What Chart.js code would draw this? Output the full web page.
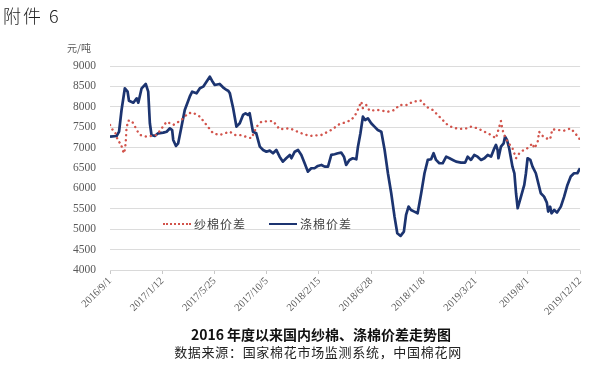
<!DOCTYPE html>
<html>
<head>
<meta charset="utf-8">
<script src="https://cdn.jsdelivr.net/npm/chart.js@4"></script>
<style>
  html, body { margin: 0; padding: 0; background: #fff; }
  #wrap { position: relative; width: 590px; height: 366px; overflow: hidden; }
  #grafico { position: absolute; left: 0; top: 0; }
  .txt { position: absolute; white-space: nowrap; }
  #anexo { left: 3px; top: 2px; font: 300 18px 'Noto Sans CJK SC'; letter-spacing: 2px; color: #222; }
  #unidade { left: 67px; top: 40px; font: 10px 'Noto Sans CJK SC'; color: #595959; }
  #titulo { left: 0; width: 642px; text-align: center; top: 324px; font: bold 14px 'Noto Sans CJK SC'; color: #111; }
  #fonte { left: 0; width: 636px; text-align: center; top: 342px; font: 13px 'Noto Sans CJK SC'; letter-spacing: 0.7px; color: #222; }
  .leg { position: absolute; top: 215px; font: 12px 'Noto Sans CJK SC'; letter-spacing: 1px; color: #404040; }
  .amostra { position: absolute; top: 223px; width: 28px; height: 0; }
</style>
</head>
<body>
<div id="wrap">
  <canvas id="grafico" width="590" height="366"></canvas>
  <div class="txt" id="anexo">附件 6</div>
  <div class="txt" id="unidade">元/吨</div>
  <div class="amostra" style="left:163px; border-top: 2.5px dotted #d2544c;"></div>
  <div class="leg" style="left:194px;">纱棉价差</div>
  <div class="amostra" style="left:269px; border-top: 2.5px solid #1c3470;"></div>
  <div class="leg" style="left:300px;">涤棉价差</div>
  <div class="txt" id="titulo">2016 年度以来国内纱棉、涤棉价差走势图</div>
  <div class="txt" id="fonte">数据来源：国家棉花市场监测系统，中国棉花网</div>
</div>
<script>
// eixo X em semanas desde 2016/9/1 (cada rótulo = 19 semanas)
const rotulosX = ['2016/9/1', '2017/1/12', '2017/5/25', '2017/10/5', '2018/2/15',
                  '2018/6/28', '2018/11/8', '2019/3/21', '2019/8/1', '2019/12/12'];

// 纱棉价差 (linha pontilhada vermelha)
const semanasFio = [0, 0.8, 1.8, 3, 4, 4.5, 5.2, 5.7, 6, 6.6, 7.9, 9.1, 10.1, 10.9, 13.3, 17, 18.8, 20.6,
  23, 26, 28.4, 30.2, 32.7, 35.1, 37.5, 39.9, 43.6, 45.4, 47.2, 51.5, 53.3, 55.1, 59.3, 61.7, 65.4, 69,
  72.6, 76.9, 80.5, 83.5, 85.3, 87.8, 89.6, 91.4, 92, 93.2, 94.4, 97.4, 101.1, 103.5, 105.3, 108.3, 110.1,
  113.2, 115, 117.4, 119.2, 121, 122.8, 124.7, 127.1, 130.1, 131.3, 133.7, 136.2, 138.6, 140.4, 141.6,
  142.2, 142.8, 143.4, 144.6, 146.4, 147.7, 148.9, 150.1, 151.3, 152.5, 153.7, 154.3, 155.5, 156.1, 156.9,
  158.6, 160.1, 160.9, 162.7, 165.2, 167.6, 169.4, 170.7, 171];
const valoresFio = [7555, 7449, 7390, 7145, 7106, 6942, 6861, 7106, 7473, 7660, 7660, 7513, 7390, 7310, 7268, 7310, 7473, 7636,
  7555, 7677, 7841, 7857, 7758, 7555, 7350, 7310, 7390, 7310, 7310, 7229, 7513, 7636, 7652, 7449, 7473, 7366,
  7285, 7310, 7432, 7579, 7612, 7677, 7841, 8126, 7963, 8045, 7905, 7922, 7880, 7922, 8045, 8045, 8126,
  8150, 8003, 7922, 7800, 7677, 7555, 7490, 7457, 7473, 7513, 7473, 7390, 7310, 7229, 7513,
  7652, 7432, 7310, 7145, 6984, 6739, 6861, 6925, 6958, 7023, 7106, 6984, 7106, 7390, 7310,
  7229, 7204, 7449, 7432, 7416, 7473, 7334, 7229, 7106];

// 涤棉价差 (linha azul contínua)
const semanasPoli = [0, 2.4, 3.3, 4.2, 5.4, 6.4, 6.9, 8.5, 9.7, 10.3, 11.5, 13, 13.9, 14.5, 15.1, 16.3, 17.5, 19.4,
  20.6, 21.8, 22.6, 23, 24, 24.8, 26, 27.2, 29, 29.9, 31.5, 32.7, 33.9, 35.1, 36.3, 37.1, 38.1, 39.9, 41.1,
  42.4, 43, 43.6, 44.8, 46, 47.2, 48.4, 49.3, 50.2, 50.8, 52, 53.2, 54.5, 55.7, 56.9, 58.1, 59.3, 60.5, 61.7,
  62.9, 64.1, 65.4, 66, 67.2, 68.4, 69.6, 70.8, 72, 73.2, 74.4, 75.6, 76.9, 78.1, 79.3, 80.5, 81.7, 82.9,
  84.1, 85.1, 85.9, 87.1, 88.3, 89.6, 90.2, 91.1, 92, 92.8, 93.8, 95, 96.2, 97.4, 98.7, 99.9, 101.1, 102.3,
  103.5, 104.5, 105.7, 106.9, 107.7, 108.6, 109.5, 110.7, 111.9, 113.2, 114.4, 115.6, 116.8, 117.7, 118.6,
  119.8, 121, 122.3, 123.5, 124.7, 125.9, 127.7, 129.2, 130.1, 131.3, 132.5, 133.7, 135, 136.2, 137.4,
  138.6, 139.8, 140.4, 141, 141.3, 142.2, 143.2, 143.7, 144.4, 145.2, 146.4, 147.1, 147.7, 148.3, 149.5,
  150.7, 151.3, 151.9, 152.9, 153.7, 154.9, 155.8, 156.7, 157.9, 158.9, 159.4, 160.1, 160.6, 161.6, 162.6,
  164, 165.2, 166.4, 167.6, 168.8, 170, 171];
const valoresPoli = [7268, 7285, 7390, 7922, 8453, 8371, 8150, 8100, 8208, 8100, 8453, 8560, 8371, 7596, 7310, 7285, 7350, 7366,
  7390, 7473, 7432, 7187, 7040, 7106, 7513, 7922, 8248, 8371, 8330, 8453, 8494, 8616, 8738, 8640, 8535, 8560, 8478,
  8412, 8395, 8330, 7963, 7513, 7596, 7800, 7841, 7800, 7841, 7390, 7350, 7023, 6942, 6900, 6925, 6861, 6942, 6778,
  6655, 6739, 6820, 6739, 6900, 6942, 6820, 6616, 6410, 6494, 6494, 6550, 6575, 6533, 6533, 6820, 6837, 6861,
  6878, 6778, 6575, 6698, 6739, 6714, 7023, 7350, 7758, 7677, 7718, 7596, 7513, 7432, 7390, 6942, 6371, 5881,
  5308, 4901, 4835, 4940, 5350, 5553, 5472, 5431, 5390, 5881, 6371, 6698, 6714, 6861, 6698,
  6616, 6616, 6778, 6739, 6698, 6655, 6633, 6633, 6778, 6698, 6820, 6778, 6698, 6739, 6820,
  6778, 6984, 7065, 6942, 6739, 7023, 7106, 7268, 7187, 6984, 6533, 6371, 5881, 5514, 5798,
  6085, 6371, 6739, 6698, 6533, 6371, 6126, 5881, 5798, 5651, 5431, 5553, 5390, 5472, 5406,
  5553, 5798, 6085, 6290, 6371, 6371, 6494];

const pontosFio = semanasFio.map((s, i) => ({ x: s, y: valoresFio[i] }));
const pontosPoli = semanasPoli.map((s, i) => ({ x: s, y: valoresPoli[i] }));

const ctx = document.getElementById('grafico').getContext('2d');
const grafico = new Chart(ctx, {
    type: 'line',
    data: {
        datasets: [
            {
                label: '纱棉价差',
                data: pontosFio,
                borderColor: '#d2544c',
                borderWidth: 2.4,
                borderDash: [0.1, 5],
                borderCapStyle: 'round',
                pointRadius: 0,
                tension: 0
            },
            {
                label: '涤棉价差',
                data: pontosPoli,
                borderColor: '#1c3470',
                borderWidth: 2.7,
                borderJoinStyle: 'round',
                pointRadius: 0,
                tension: 0
            }
        ]
    },
    options: {
        responsive: false,
        animation: false,
        layout: { padding: { top: 66, right: 7, left: 0, bottom: 0 } },
        plugins: {
            legend: { display: false },
            tooltip: { enabled: false }
        },
        scales: {
            x: {
                type: 'linear',
                min: 0,
                max: 171,
                afterFit: (s) => { s.height = 96; },
                ticks: {
                    stepSize: 19,
                    autoSkip: false,
                    minRotation: 45,
                    maxRotation: 45,
                    color: '#595959',
                    font: { family: "'Liberation Serif', serif", size: 10.5 },
                    padding: 1,
                    callback: (v) => rotulosX[Math.round(v / 19)]
                },
                grid: { drawOnChartArea: false, drawTicks: true, tickLength: 4, color: '#c8c8c8' },
                border: { display: true, color: '#d9d9d9' }
            },
            y: {
                min: 4000,
                max: 9000,
                afterFit: (s) => { s.width = 110; },
                ticks: {
                    stepSize: 500,
                    color: '#595959',
                    font: { family: "'Liberation Serif', serif", size: 11.5 },
                    padding: 14,
                    callback: (v) => String(v)
                },
                grid: { color: '#dcdcdc', drawTicks: false },
                border: { display: false }
            }
        }
    }
});
</script>
</body>
</html>
